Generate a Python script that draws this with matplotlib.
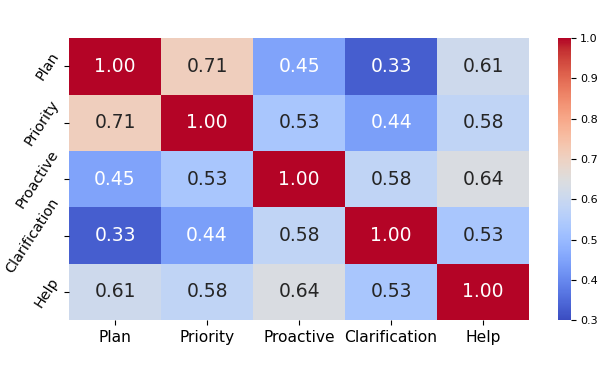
import matplotlib
matplotlib.use("Agg")
import matplotlib.pyplot as plt
import numpy as np
import seaborn as sns

# categories and correlation values
labels = ["Plan", "Priority", "Proactive", "Clarification", "Help"]
row_plan = [1.00, 0.71, 0.45, 0.33, 0.61]
row_priority = [0.71, 1.00, 0.53, 0.44, 0.58]
row_proactive = [0.45, 0.53, 1.00, 0.58, 0.64]
row_clarification = [0.33, 0.44, 0.58, 1.00, 0.53]
row_help = [0.61, 0.58, 0.64, 0.53, 1.00]

corr = np.array([row_plan, row_priority, row_proactive, row_clarification, row_help])

fig = plt.figure(figsize=(6, 3.78), dpi=100)
ax = fig.add_axes([0.115, 0.153, 0.767, 0.746])
cax = fig.add_axes([0.930, 0.153, 0.021, 0.746])

sns.heatmap(corr, ax=ax, cbar_ax=cax, cmap="coolwarm", vmin=0.3, vmax=1.0,
            annot=True, fmt=".2f", annot_kws={"fontsize": 13.5},
            xticklabels=labels, yticklabels=labels)

ax.tick_params(axis="x", labelsize=11.2, rotation=0)
ax.tick_params(axis="y", labelsize=10.4, pad=2)
plt.setp(ax.get_yticklabels(), rotation=57, ha="right", va="center")
cax.tick_params(labelsize=8)
cax.set_yticks([0.3, 0.4, 0.5, 0.6, 0.7, 0.8, 0.9, 1.0])

fig.savefig("out.png", dpi=100)
